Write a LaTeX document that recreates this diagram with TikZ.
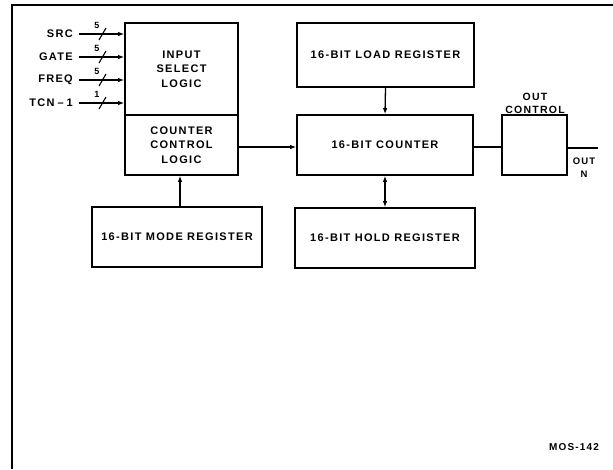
\documentclass[tikz,border=0pt]{standalone}
\usepackage{fontspec}
\setmainfont{Liberation Sans}[LetterSpace=12]
\usetikzlibrary{arrows.meta}
\tikzset{
  blk/.style={draw, line width=1.7pt, rectangle, inner sep=0pt, align=center,
    font=\bfseries\fontsize{11}{14.5}\selectfont},
  lbl/.style={inner sep=0pt, font=\bfseries\fontsize{11}{12}\selectfont},
  num/.style={inner sep=0pt, font=\bfseries\fontsize{9}{9}\selectfont},
  wire/.style={line width=1.3pt},
  arr/.style={line width=1.3pt, -{Latex[length=6pt,width=4.5pt]}},
  darr/.style={line width=1.3pt, {Latex[length=6pt,width=4.5pt]}-{Latex[length=6pt,width=4.5pt]}},
  frame/.style={line width=1.8pt}
}
\newcommand{\tcnlabel}{TCN\hspace{3pt}–\hspace{3pt}1}
\begin{document}
\begin{tikzpicture}[x=1pt,y=-1pt]
\useasboundingbox (0,0) rectangle (613,469);
% frame
\coordinate (tl) at (12,5);
\coordinate (tr) at (613,5);
\coordinate (bl) at (12,469);
\draw[frame] (tr) -- (tl) -- (bl);
% blocks
\node[blk, minimum width=113pt, minimum height=92pt] (isl) at (181.5,69) {INPUT\\SELECT\\LOGIC};
\node[blk, minimum width=113pt, minimum height=60pt] (ccl) at (181.5,145) {COUNTER\\CONTROL\\LOGIC};
\node[blk, minimum width=177pt, minimum height=64pt] (load) at (385.5,55) {16-BIT LOAD REGISTER};
\node[blk, minimum width=176pt, minimum height=60pt] (ctr) at (385,145) {16-BIT COUNTER};
\node[blk, minimum width=65pt, minimum height=60pt] (outc) at (534.5,145) {};
\node[blk, minimum width=170pt, minimum height=60pt] (mode) at (177,237) {16-BIT MODE REGISTER};
\node[blk, minimum width=180pt, minimum height=60pt] (hold) at (385,238) {16-BIT HOLD REGISTER};
% out control label
\node[lbl, align=center, font=\bfseries\fontsize{10.5}{13}\selectfont] (outlbl) at (535,103) {OUT\\CONTROL};
% inputs
\foreach \nm/\txt/\y/\n in {src/SRC/34/5, gate/GATE/57/5, freq/FREQ/80/5, tcn/\tcnlabel/103/1}{
  \node[lbl, anchor=east] (\nm) at (73,\y) {\txt};
  \coordinate (\nm s) at (79,\y);
  \coordinate (\nm e) at (isl.west |- \nm s);
  \draw[arr] (\nm s) -- (\nm e);
  \coordinate (\nm a) at (99,\y+6);
  \coordinate (\nm b) at (106,\y-6);
  \draw[line width=1.1pt] (\nm a) -- (\nm b);
  \node[num] (\nm n) at (97,\y-9) {\n};
}
% connections
\draw[arr] (ccl.east |- 0,147) -- (ctr.west |- 0,147);
\draw[arr] (load.south) -- (ctr.north);
\draw[darr] (ctr.south) -- (hold.north);
\draw[arr] (mode.north -| 180,0) -- (ccl.south -| 180,0);
\draw[wire] (ctr.east |- 0,147) -- (outc.west |- 0,147);
\coordinate (outend) at (598,148);
\draw[wire] (outc.east |- outend) -- (outend);
\node[lbl, align=center, font=\bfseries\fontsize{9.5}{13}\selectfont] (outn) at (584,168) {OUT\\N};
\node[lbl, font=\bfseries\fontsize{10}{12}\selectfont, inner sep=0pt] (mos) at (574,447) {MOS-142};
\end{tikzpicture}
\end{document}
